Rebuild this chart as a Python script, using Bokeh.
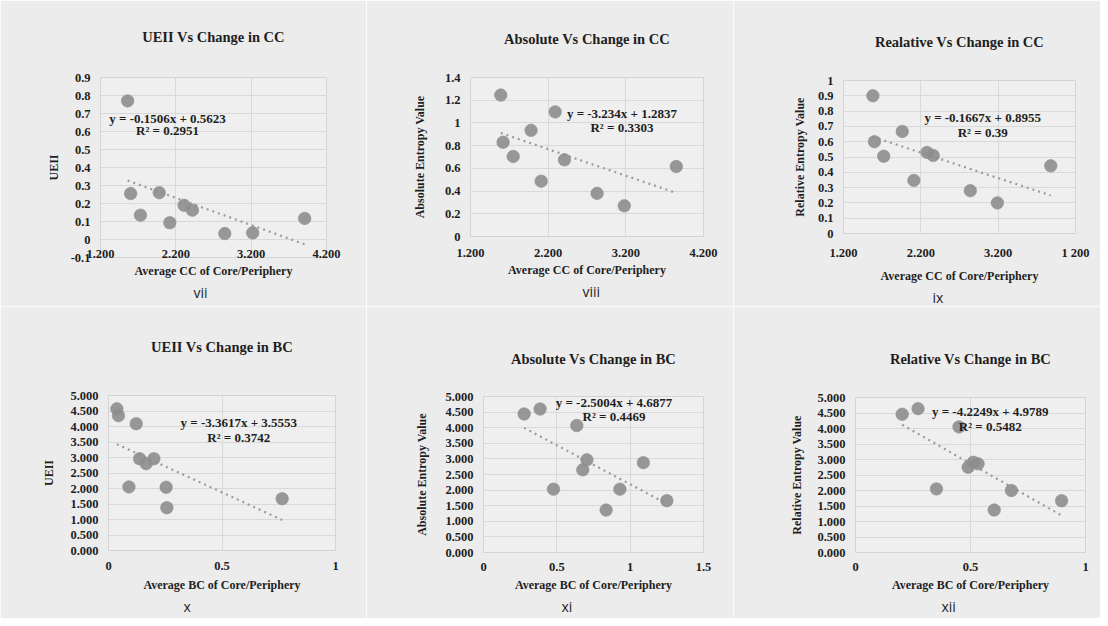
from bokeh.plotting import figure
from bokeh.layouts import row, column
from bokeh.models import Label, Title, FixedTicker, Range1d, LinearAxis
from bokeh.embed import file_html
from bokeh.resources import INLINE

# ---------------- data ----------------
cc_ticks = [1.2, 2.2, 3.2, 4.2]
cc_tick_labels = ["1.200", "2.200", "3.200", "4.200"]
cc_tick_labels_ix = ["1.200", "2.200", "3.200", "1 200"]

vii_x = [1.56, 1.60, 1.73, 1.98, 2.12, 2.31, 2.42, 2.85, 3.22, 3.91]
vii_y = [0.77, 0.255, 0.135, 0.26, 0.093, 0.19, 0.163, 0.033, 0.037, 0.117]
vii_yticks = [-0.1, 0, 0.1, 0.2, 0.3, 0.4, 0.5, 0.6, 0.7, 0.8, 0.9]
vii_ylabels = ["-0.1", "0", "0.1", "0.2", "0.3", "0.4", "0.5", "0.6", "0.7", "0.8", "0.9"]

viii_x = [1.59, 1.62, 1.75, 1.98, 2.11, 2.29, 2.41, 2.83, 3.18, 3.85]
viii_y = [1.245, 0.83, 0.705, 0.935, 0.487, 1.097, 0.675, 0.38, 0.27, 0.616]
viii_yticks = [0, 0.2, 0.4, 0.6, 0.8, 1.0, 1.2, 1.4]
viii_ylabels = ["0", "0.2", "0.4", "0.6", "0.8", "1", "1.2", "1.4"]

ix_x = [1.58, 1.60, 1.72, 1.96, 2.11, 2.28, 2.36, 2.84, 3.19, 3.88]
ix_y = [0.90, 0.60, 0.505, 0.667, 0.347, 0.53, 0.51, 0.28, 0.20, 0.442]
ix_yticks = [0, 0.1, 0.2, 0.3, 0.4, 0.5, 0.6, 0.7, 0.8, 0.9, 1.0]
ix_ylabels = ["0", "0.1", "0.2", "0.3", "0.4", "0.5", "0.6", "0.7", "0.8", "0.9", "1"]

bc_yticks = [0, 0.5, 1.0, 1.5, 2.0, 2.5, 3.0, 3.5, 4.0, 4.5, 5.0]
bc_ylabels = ["0.000", "0.500", "1.000", "1.500", "2.000", "2.500",
              "3.000", "3.500", "4.000", "4.500", "5.000"]

x_x = [0.037, 0.044, 0.122, 0.137, 0.166, 0.20, 0.09, 0.254, 0.257, 0.765]
x_y = [4.57, 4.35, 4.09, 2.96, 2.80, 2.96, 2.05, 2.04, 1.38, 1.67]
x_xticks = [0, 0.5, 1.0]
x_xlabels = ["0", "0.5", "1"]

xi_x = [0.277, 0.386, 0.636, 0.705, 0.677, 0.477, 0.93, 1.09, 0.836, 1.25]
xi_y = [4.44, 4.60, 4.07, 2.97, 2.65, 2.03, 2.03, 2.88, 1.36, 1.66]
xi_xticks = [0, 0.5, 1.0, 1.5]
xi_xlabels = ["0", "0.5", "1", "1.5"]

xii_x = [0.203, 0.272, 0.45, 0.352, 0.49, 0.512, 0.533, 0.678, 0.603, 0.896]
xii_y = [4.46, 4.64, 4.05, 2.05, 2.75, 2.91, 2.86, 2.00, 1.37, 1.67]
xii_xticks = [0, 0.5, 1.0]
xii_xlabels = ["0", "0.5", "1"]

trend_slopes = [-0.1506, -0.234, -0.1667, -3.3617, -2.5004, -4.2249]
trend_intercepts = [0.5623, 1.2837, 0.8955, 3.5553, 4.6877, 4.9789]
eq_texts = ["y = -0.1506x + 0.5623", "y = -3.234x + 1.2837", "y = -0.1667x + 0.8955",
            "y = -3.3617x + 3.5553", "y = -2.5004x + 4.6877", "y = -4.2249x + 4.9789"]
r2_texts = ["R\u00b2 = 0.2951", "R\u00b2 = 0.3303", "R\u00b2 = 0.39",
            "R\u00b2 = 0.3742", "R\u00b2 = 0.4469", "R\u00b2 = 0.5482"]

titles = ["UEII Vs Change in CC", "Absolute Vs Change in CC", "Realative Vs Change in CC",
          "UEII Vs Change in BC", "Absolute Vs Change in BC", "Relative Vs Change in BC"]
ylabels = ["UEII", "Absolute Entropy Value", "Relative Entropy Value",
           "UEII", "Absolute Entropy Value", "Relative Entropy Value"]
xlabels = ["Average CC of Core/Periphery"] * 3 + ["Average BC of Core/Periphery"] * 3
romans = ["vii", "viii", "ix", "x", "xi", "xii"]

# ---------------- style / layout ----------------
SERIF = "Liberation Serif"
SANS = "Open Sans"
TXT = "#1e1e1e"
PT = "#8d8d8d"
BG = "#ececec"
COL_W = [366, 367, 367]
ROW_H = [306, 312]

# b = (left, right, top, bottom) borders; ts = title standoff; rx = roman left offset
panels = [
    dict(x=vii_x, y=vii_y, xr=(1.2, 4.2), yr=(-0.1, 0.9), xt=cc_ticks, xl=cc_tick_labels,
         yt=vii_yticks, yl=vii_ylabels, b=(100, 40, 77, 49), eq=(2.09, 0.672, 0.605),
         ts=33, rx=93, xs=(-8, 3), ys=7),
    dict(x=viii_x, y=viii_y, xr=(1.2, 4.2), yr=(0, 1.4), xt=cc_ticks, xl=cc_tick_labels,
         yt=viii_yticks, yl=viii_ylabels, b=(104, 30, 77, 70), eq=(3.15, 1.08, 0.96),
         ts=31, rx=112, xs=(12, 3), ys=15),
    dict(x=ix_x, y=ix_y, xr=(1.2, 4.2), yr=(0, 1.0), xt=cc_ticks, xl=cc_tick_labels_ix,
         yt=ix_yticks, yl=ix_ylabels, b=(110, 25, 80, 68), eq=(3.0, 0.758, 0.663),
         ts=31, rx=89, xs=(12, 6), ys=8),
    dict(x=x_x, y=x_y, xr=(0, 1.0), yr=(0, 5.0), xt=x_xticks, xl=x_xlabels,
         yt=bc_yticks, yl=bc_ylabels, b=(108, 31, 89, 68), eq=(0.574, 4.12, 3.66),
         ts=41, rx=75, xs=(11, 5), ys=11),
    dict(x=xi_x, y=xi_y, xr=(0, 1.5), yr=(0, 5.0), xt=xi_xticks, xl=xi_xlabels,
         yt=bc_yticks, yl=bc_ylabels, b=(117, 30, 90, 66), eq=(0.89, 4.82, 4.36),
         ts=30, rx=78, xs=(10, 4), ys=13),
    dict(x=xii_x, y=xii_y, xr=(0, 1.0), yr=(0, 5.0), xt=xii_xticks, xl=xii_xlabels,
         yt=bc_yticks, yl=bc_ylabels, b=(122, 15, 91, 66), eq=(0.586, 4.54, 4.05),
         ts=31, rx=86, xs=(10, 4), ys=10),
]

figs = []
for i, pc in enumerate(panels):
    bl, br, bt, bb = pc["b"]
    p = figure(width=COL_W[i % 3], height=ROW_H[i // 3], output_backend="svg",
               toolbar_location=None,
               x_range=Range1d(*pc["xr"]), y_range=Range1d(*pc["yr"]),
               min_border_left=bl, min_border_right=br, min_border_top=bt,
               min_border_bottom=bb)
    p.background_fill_color = "#efefef"
    p.border_fill_color = BG
    p.outline_line_color = "#d4d4d4"

    for ax in (p.xaxis[0], p.yaxis[0]):
        ax.axis_line_color = None
        ax.major_tick_line_color = None
        ax.minor_tick_line_color = None
        ax.major_tick_out = 0
        ax.major_tick_in = 0
        ax.minor_tick_out = 0
        ax.major_label_text_font = SERIF
        ax.major_label_text_font_size = "12.5px"
        ax.major_label_text_font_style = "bold"
        ax.major_label_text_color = TXT
        ax.axis_label_text_font = SERIF
        ax.axis_label_text_font_size = "12px"
        ax.axis_label_text_font_style = "bold"
        ax.axis_label_text_color = TXT
    p.xaxis.major_label_standoff = pc["xs"][0]
    p.xaxis.axis_label_standoff = pc["xs"][1]
    p.yaxis.major_label_standoff = 10
    p.yaxis.axis_label_standoff = pc["ys"]
    p.xaxis.ticker = FixedTicker(ticks=pc["xt"])
    p.xaxis.major_label_overrides = dict(zip(pc["xt"], pc["xl"]))
    p.yaxis.ticker = FixedTicker(ticks=pc["yt"])
    p.yaxis.major_label_overrides = dict(zip(pc["yt"], pc["yl"]))
    p.xaxis.axis_label = xlabels[i]
    p.yaxis.axis_label = ylabels[i]

    # chart title as the label of a tick-less axis above the frame
    tax = LinearAxis(ticker=FixedTicker(ticks=[]), axis_label=titles[i],
                     axis_line_color=None, major_tick_out=0, major_tick_in=0,
                     minor_tick_out=0, minor_tick_in=0,
                     axis_label_standoff=pc["ts"], axis_label_text_font=SERIF,
                     axis_label_text_font_size="14.5px", axis_label_text_font_style="bold",
                     axis_label_text_color=TXT)
    p.add_layout(tax, "above")

    p.xgrid.grid_line_color = "#d9d9d9"
    p.ygrid.grid_line_color = "#d9d9d9"
    p.xgrid.ticker = FixedTicker(ticks=pc["xt"])
    p.ygrid.ticker = FixedTicker(ticks=pc["yt"])

    # trendline over data range
    x0, x1 = min(pc["x"]), max(pc["x"])
    m, c = trend_slopes[i], trend_intercepts[i]
    p.line([x0, x1], [m * x0 + c, m * x1 + c], line_color="#9b9b9b",
           line_width=2.2, line_dash="2 4")
    p.scatter(pc["x"], pc["y"], size=12.5, fill_color=PT, line_color=PT,
              fill_alpha=0.9, line_alpha=0.6)

    ex, ey, ry = pc["eq"]
    for txt, yy in ((eq_texts[i], ey), (r2_texts[i], ry)):
        p.add_layout(Label(x=ex, y=yy, text=txt, text_align="center",
                           text_baseline="middle", text_font=SERIF,
                           text_font_size="13px", text_font_style="bold",
                           text_color=TXT))

    p.add_layout(Title(text=romans[i], align="left", offset=pc["rx"], standoff=0,
                       text_font=SANS, text_font_size="14px", text_font_style="normal",
                       text_color=TXT), "below")
    figs.append(p)

# each figure wrapped on its own so that frames are not aligned across panels
cells = [column(f) for f in figs]
layout = column(row(*cells[0:3]), row(*cells[3:6]))
open("out.html", "w").write(file_html(layout, INLINE))
